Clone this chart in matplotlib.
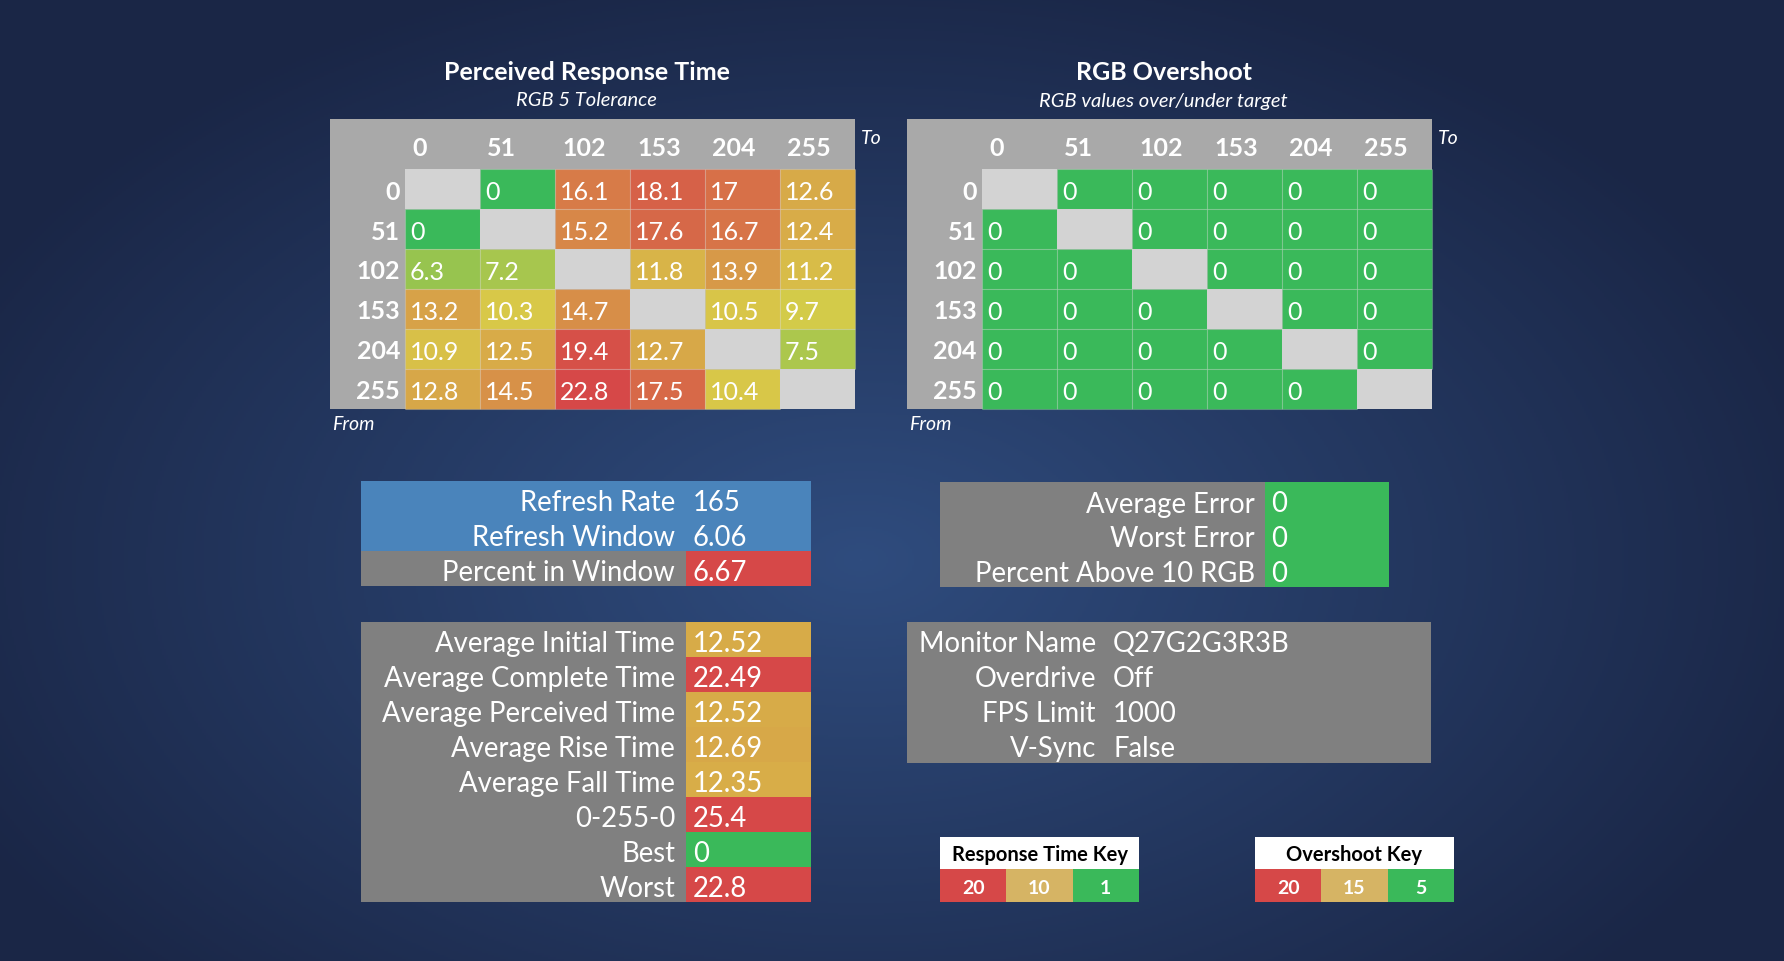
import numpy as np
import matplotlib
matplotlib.use("Agg")
import matplotlib.pyplot as plt
from matplotlib.patches import Rectangle

plt.rcParams['font.family'] = ['Lato', 'DejaVu Sans']

# ---- data ----
levels = ['0', '51', '102', '153', '204', '255']
response = [
    [None, 0, 16.1, 18.1, 17, 12.6],
    [0, None, 15.2, 17.6, 16.7, 12.4],
    [6.3, 7.2, None, 11.8, 13.9, 11.2],
    [13.2, 10.3, 14.7, None, 10.5, 9.7],
    [10.9, 12.5, 19.4, 12.7, None, 7.5],
    [12.8, 14.5, 22.8, 17.5, 10.4, None],
]
overshoot = [
    [None, 0, 0, 0, 0, 0],
    [0, None, 0, 0, 0, 0],
    [0, 0, None, 0, 0, 0],
    [0, 0, 0, None, 0, 0],
    [0, 0, 0, 0, None, 0],
    [0, 0, 0, 0, 0, None],
]
refresh_labels = ['Refresh Rate', 'Refresh Window', 'Percent in Window']
refresh_values = ['165', '6.06', '6.67']
error_labels = ['Average Error', 'Worst Error', 'Percent Above 10 RGB']
error_values = [0, 0, 0]
stat_labels = ['Average Initial Time', 'Average Complete Time', 'Average Perceived Time',
               'Average Rise Time', 'Average Fall Time', '0-255-0', 'Best', 'Worst']
stat_values = [12.52, 22.49, 12.52, 12.69, 12.35, 25.4, 0, 22.8]
monitor_labels = ['Monitor Name', 'Overdrive', 'FPS Limit', 'V-Sync']
monitor_values = ['Q27G2G3R3B', 'Off', '1000', 'False']
rt_key = [20, 10, 1]
os_key = [20, 15, 5]

# ---- colours ----
GREEN = (58, 185, 90)
YELLOW = (216, 204, 72)
RED = (214, 72, 72)
TAN = (214, 180, 100)
DIAG = '#d3d3d3'
HEAD = '#a9a9a9'
PANEL = '#808080'
BLUE = '#4a84bb'


def scale_color(v, lo, mid, hi):
    pts = [lo, mid, hi]
    rgb = [np.interp(v, pts, [GREEN[i], YELLOW[i], RED[i]]) for i in range(3)]
    return tuple(c / 255 for c in rgb)


def c255(t):
    return tuple(c / 255 for c in t)


fig = plt.figure(figsize=(17.84, 9.62), dpi=100)
ax = fig.add_axes([0, 0, 1, 1])
ax.set_xlim(0, 1784)
ax.set_ylim(962, 0)
ax.axis('off')

# background radial gradient
yy, xx = np.mgrid[0:962:2, 0:1784:2]
r = np.sqrt(((xx - 860) / 1000) ** 2 + ((yy - 560) / 620) ** 2)
r = np.clip(r, 0, 1)
inner = np.array([47, 76, 126]) / 255
outer = np.array([26, 38, 70]) / 255
bg = inner[None, None, :] * (1 - r[..., None]) + outer[None, None, :] * r[..., None]
ax.imshow(bg, extent=[0, 1784, 962, 0], zorder=0, aspect='auto')

VAL = 18
LAB = 19.8


def rect(x, y, w, h, color, z=1, edge=None):
    ax.add_patch(Rectangle((x, y), w, h, facecolor=color,
                           edgecolor=edge if edge else 'none', lw=0.8 if edge else 0, zorder=z))


def matrix(x0, title, subtitle, data, lo, mid, hi):
    cw, hh, rh = 75, 50, 40
    w = cw * 7
    rect(x0, 120, w, hh + rh * 6, HEAD)
    ax.text(x0 + w / 2 - 6, 72, title, color='white', fontsize=18, fontweight='bold',
            ha='center', va='center')
    ax.text(x0 + w / 2 - 6, 101, subtitle, color='white', fontsize=14.5, style='italic',
            ha='center', va='center')
    for j, lab in enumerate(levels):
        ax.text(x0 + cw * (j + 1) + 7, 120 + hh / 2 + 3, lab, color='white', fontsize=VAL,
                fontweight='bold', ha='left', va='center')
    for i, row in enumerate(data):
        y = 120 + hh + rh * i
        ax.text(x0 + cw - 5, y + rh / 2 + 2, levels[i], color='white', fontsize=VAL,
                fontweight='bold', ha='right', va='center')
        for j, v in enumerate(row):
            x = x0 + cw * (j + 1)
            if v is None:
                rect(x, y, cw, rh, DIAG, z=2)
            else:
                rect(x, y, cw, rh, scale_color(v, lo, mid, hi), z=2,
                     edge=(1, 1, 1, 0.18))
                ax.text(x + 5, y + rh / 2 + 3, f'{v:g}', color='white', fontsize=VAL,
                        ha='left', va='center', zorder=3)
    ax.text(x0 + w + 6, 138, 'To', color='white', fontsize=14, style='italic',
            ha='left', va='center')
    ax.text(x0 + 2, 425, 'From', color='white', fontsize=14, style='italic',
            ha='left', va='center')


matrix(330, 'Perceived Response Time', 'RGB 5 Tolerance', response, 1, 10, 20)
matrix(907, 'RGB Overshoot', 'RGB values over/under target', overshoot, 5, 15, 20)

RH = 35
DY = RH / 2 + 4

# refresh panel
x0, xv, x1, y0 = 361, 686, 811, 482
for i, (lab, val) in enumerate(zip(refresh_labels, refresh_values)):
    y = y0 + RH * i
    if i < 2:
        rect(x0, y, x1 - x0, RH, BLUE)
    else:
        rect(x0, y, xv - x0, RH, PANEL)
        rect(xv, y, x1 - xv, RH, c255(RED))
    ax.text(xv - 11, y + DY, lab, color='white', fontsize=LAB, ha='right', va='center', zorder=3)
    ax.text(xv + 7, y + DY, val, color='white', fontsize=LAB, ha='left', va='center', zorder=3)

# error panel
x0, xv, x1, y0 = 940, 1265, 1389, 483
for i, (lab, val) in enumerate(zip(error_labels, error_values)):
    y = y0 + RH * i
    rect(x0, y, xv - x0, RH, PANEL)
    rect(xv, y, x1 - xv, RH, scale_color(val, 5, 15, 20))
    ax.text(xv - 10, y + DY, lab, color='white', fontsize=LAB, ha='right', va='center', zorder=3)
    ax.text(xv + 6, y + DY, f'{val:g}', color='white', fontsize=LAB, ha='left', va='center', zorder=3)

# stats panel
x0, xv, x1, y0 = 361, 686, 811, 623
for i, (lab, val) in enumerate(zip(stat_labels, stat_values)):
    y = y0 + RH * i
    rect(x0, y, xv - x0, RH, PANEL)
    rect(xv, y, x1 - xv, RH, scale_color(val, 1, 10, 20))
    ax.text(xv - 11, y + DY, lab, color='white', fontsize=LAB, ha='right', va='center', zorder=3)
    ax.text(xv + 7, y + DY, f'{val:g}', color='white', fontsize=LAB, ha='left', va='center', zorder=3)

# monitor panel
x0, xv, x1, y0 = 907, 1104, 1431, 623
rect(x0, y0, x1 - x0, RH * len(monitor_labels) + 1, PANEL)
for i, (lab, val) in enumerate(zip(monitor_labels, monitor_values)):
    y = y0 + RH * i
    ax.text(xv - 8, y + DY, lab, color='white', fontsize=LAB, ha='right', va='center', zorder=3)
    ax.text(xv + 9, y + DY, val, color='white', fontsize=LAB, ha='left', va='center', zorder=3)


def key(x0, title, vals):
    w = 199
    rect(x0, 838, w, 32, 'white')
    ax.text(x0 + w / 2, 855, title, color='black', fontsize=14.5, fontweight='bold',
            ha='center', va='center', zorder=3)
    cols = [c255(RED), c255(TAN), c255(GREEN)]
    for k, (v, c) in enumerate(zip(vals, cols)):
        rect(x0 + w / 3 * k, 870, w / 3, 33, c)
        ax.text(x0 + w / 3 * (k + 0.5), 889, str(v), color='white', fontsize=14,
                fontweight='bold', ha='center', va='center', zorder=3)


key(940, 'Response Time Key', rt_key)
key(1255, 'Overshoot Key', os_key)

fig.savefig('out.png', dpi=100)
